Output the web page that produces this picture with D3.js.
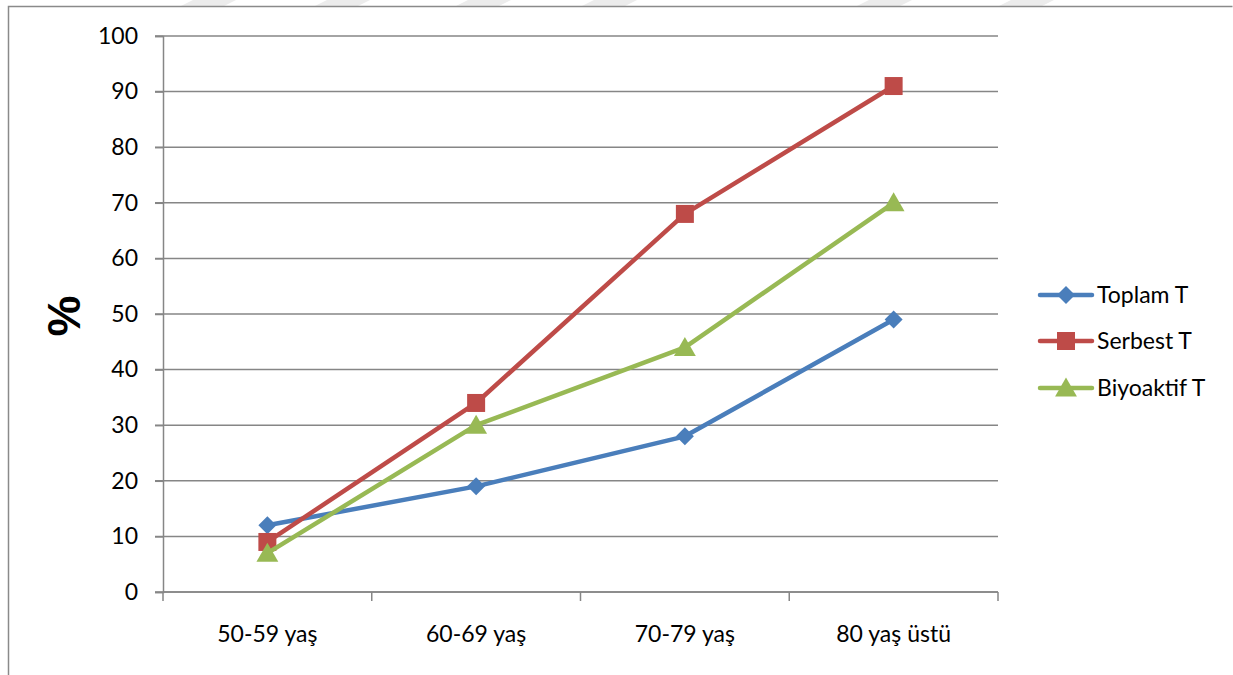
<!DOCTYPE html>
<html>
<head>
<meta charset="utf-8">
<script src="https://cdn.jsdelivr.net/npm/d3@7"></script>
<style>
  html, body { margin: 0; padding: 0; background: #fff; }
  svg { display: block; font-family: Lato, "Open Sans", sans-serif; }
</style>
</head>
<body>
<svg id="chart" width="1233" height="675"></svg>
<script>
// Age groups and percentage values per testosterone measure
const categories = ["50-59 yaş", "60-69 yaş", "70-79 yaş", "80 yaş üstü"];
const toplamT = [12, 19, 28, 49];
const serbestT = [9, 34, 68, 91];
const biyoaktifT = [7, 30, 44, 70];
const yTicks = [0, 10, 20, 30, 40, 50, 60, 70, 80, 90, 100];
const seriesNames = ["Toplam T", "Serbest T", "Biyoaktif T"];
const seriesColors = ["#4a7ebb", "#be4b48", "#98b954"];
const seriesValues = [toplamT, serbestT, biyoaktifT];

const FONT = "Lato, 'Open Sans', sans-serif";
const svg = d3.select("#chart");
const W = 1233, H = 675;

// marker shapes: diamond (rotated square), square, triangle
const diamond = r => `M0,${-r} L${r},0 L0,${r} L${-r},0 Z`;
const square = r => `M${-r},${-r} H${r} V${r} H${-r} Z`;
const triangle = r => `M0,${-r * 1.1} L${r * 1.15},${r * 0.9} L${-r * 1.15},${r * 0.9} Z`;
const markerPath = [() => diamond(9), () => square(9), () => triangle(9.5)];

// faint diagonal band pattern along the top edge
const bandX = [181, 315, 456, 582, 857, 999];
svg.append("g").selectAll("path").data(bandX).join("path")
  .attr("d", x => `M${x + 12},0 L${x + 55},0 L${x + 43},6 L${x},6 Z`)
  .attr("fill", "#ececec");

// outer frame
svg.append("path")
  .attr("d", `M8.5,${H} L8.5,6.5 L1232.5,6.5`)
  .attr("fill", "none").attr("stroke", "#8a8a8a").attr("stroke-width", 1.5);

const plot = { left: 163, right: 998, top: 36, bottom: 592 };

const x = d3.scaleBand().domain(categories).range([plot.left, plot.right]);
const y = d3.scaleLinear().domain([0, 100]).range([plot.bottom, plot.top]);
const cx = c => x(c) + x.bandwidth() / 2;

// horizontal gridlines
svg.append("g").selectAll("line").data(yTicks).join("line")
  .attr("x1", plot.left - 8).attr("x2", plot.right)
  .attr("y1", d => y(d)).attr("y2", d => y(d))
  .attr("stroke", "#868686").attr("stroke-width", 1.5);

// y axis
const yAxis = svg.append("g").attr("transform", `translate(${plot.left},0)`)
  .call(d3.axisLeft(y).tickValues(yTicks).tickSize(8).tickPadding(17));
yAxis.attr("font-size", null).attr("font-family", null);
yAxis.select(".domain").attr("stroke", "#868686").attr("stroke-width", 1.5);
yAxis.selectAll(".tick line").attr("stroke", "#868686").attr("stroke-width", 1.5);
yAxis.selectAll(".tick text").style("font-size", "23px").attr("fill", "#000")
  .style("font-family", FONT);

// x axis with ticks at category boundaries
const xAxis = svg.append("g").attr("transform", `translate(0,${plot.bottom})`);
xAxis.append("line").attr("x1", plot.left).attr("x2", plot.right)
  .attr("stroke", "#868686").attr("stroke-width", 1.5);
const bounds = categories.map(c => x(c)).concat([plot.right]);
xAxis.selectAll("line.tk").data(bounds).join("line").attr("class", "tk")
  .attr("x1", d => d).attr("x2", d => d).attr("y1", 0).attr("y2", 9)
  .attr("stroke", "#868686").attr("stroke-width", 1.5);
xAxis.selectAll("text").data(categories).join("text")
  .attr("x", d => cx(d)).attr("y", 50)
  .attr("text-anchor", "middle").style("font-size", "23px").style("font-family", FONT)
  .attr("fill", "#000")
  .text(d => d);

// y axis title
svg.append("text")
  .attr("transform", "translate(80,316) rotate(-90)")
  .attr("text-anchor", "middle")
  .style("font-size", "46px").attr("font-weight", "bold")
  .style("font-family", "'Liberation Sans', Arial, sans-serif")
  .text("%");

// series lines and markers
const line = d3.line().x((d, i) => cx(categories[i])).y(d => y(d));

seriesValues.forEach((vals, s) => {
  const g = svg.append("g");
  g.append("path").datum(vals)
    .attr("d", line).attr("fill", "none")
    .attr("stroke", seriesColors[s]).attr("stroke-width", 4.5)
    .attr("stroke-linejoin", "round");
  g.selectAll("path.m").data(vals).join("path").attr("class", "m")
    .attr("transform", (d, i) => `translate(${cx(categories[i])},${y(d)})`)
    .attr("d", markerPath[s])
    .attr("fill", seriesColors[s]);
});

// legend
const legend = svg.append("g");
const legY = [295, 341, 388];
seriesNames.forEach((name, s) => {
  const g = legend.append("g").attr("transform", `translate(0,${legY[s]})`);
  g.append("line").attr("x1", 1040).attr("x2", 1092).attr("y1", 0).attr("y2", 0)
    .attr("stroke", seriesColors[s]).attr("stroke-width", 4.5).attr("stroke-linecap", "round");
  g.append("path").attr("transform", `translate(1066,0)`)
    .attr("d", markerPath[s])
    .attr("fill", seriesColors[s]);
  g.append("text").attr("x", 1097).attr("y", 8)
    .style("font-size", "23px").style("font-family", FONT).attr("fill", "#000").text(name);
});
</script>
</body>
</html>
